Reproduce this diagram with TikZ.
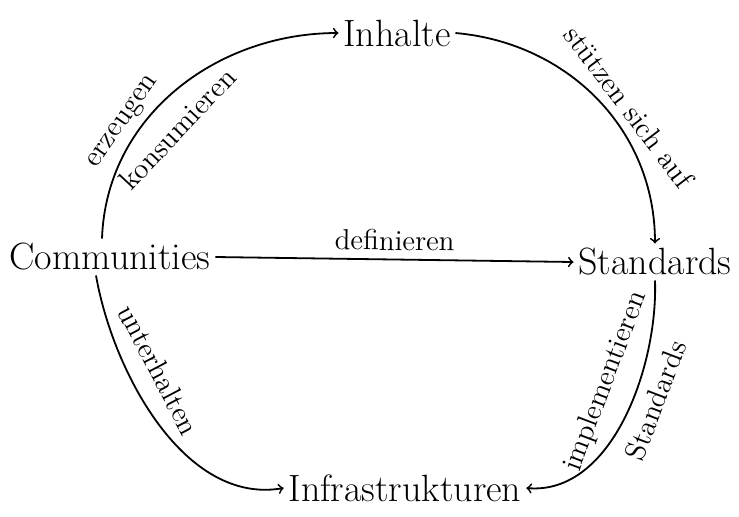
\documentclass[tikz,border=0pt]{standalone}
\usepackage{tikz}
\usetikzlibrary{arrows, positioning}

\begin{document}
\begin{tikzpicture}[
  x=0.5pt, y=-0.5pt,
  term/.style={font=\fontsize{19}{22}\selectfont, inner sep=2pt},
  lbl/.style={font=\fontsize{14.5}{17}\selectfont, sloped, inner sep=2pt},
  >=to, line width=0.9pt
]
\useasboundingbox (0,0) rectangle (739,516);
\node[term] (inh)   at (397,33)  {Inhalte};
\node[term] (comm)  at (110,257) {Communities};
\node[term] (std)   at (655,262) {Standards};
\node[term] (infra) at (405,488) {Infrastrukturen};
% Communities -> Inhalte
\draw[->] ([xshift=-4pt]comm.north) to[out=88, in=180]
    node[lbl, above=1pt, pos=0.33] {erzeugen}
    node[lbl, below=7pt, pos=0.42] {konsumieren}
    (inh.west);
\draw[->] (inh.east) to[out=-5, in=90]
    node[lbl, above=2pt, pos=0.58] {stützen sich auf}
    (std.north);
\draw[->] (comm.east) -- (std.west)
    node[lbl, above=2pt, midway] {definieren};
\draw[->] ([xshift=-7pt]comm.south) to[out=-80, in=190, looseness=0.9]
    node[lbl, above=7pt, pos=0.35] {unterhalten}
    (infra.west);
\draw[->] (std.south) to[out=-88, in=-5, looseness=0.9]
    node[lbl, above=7pt, pos=0.4] {implementieren}
    node[lbl, below=3pt, pos=0.4] {Standards}
    (infra.east);
\end{tikzpicture}
\end{document}
